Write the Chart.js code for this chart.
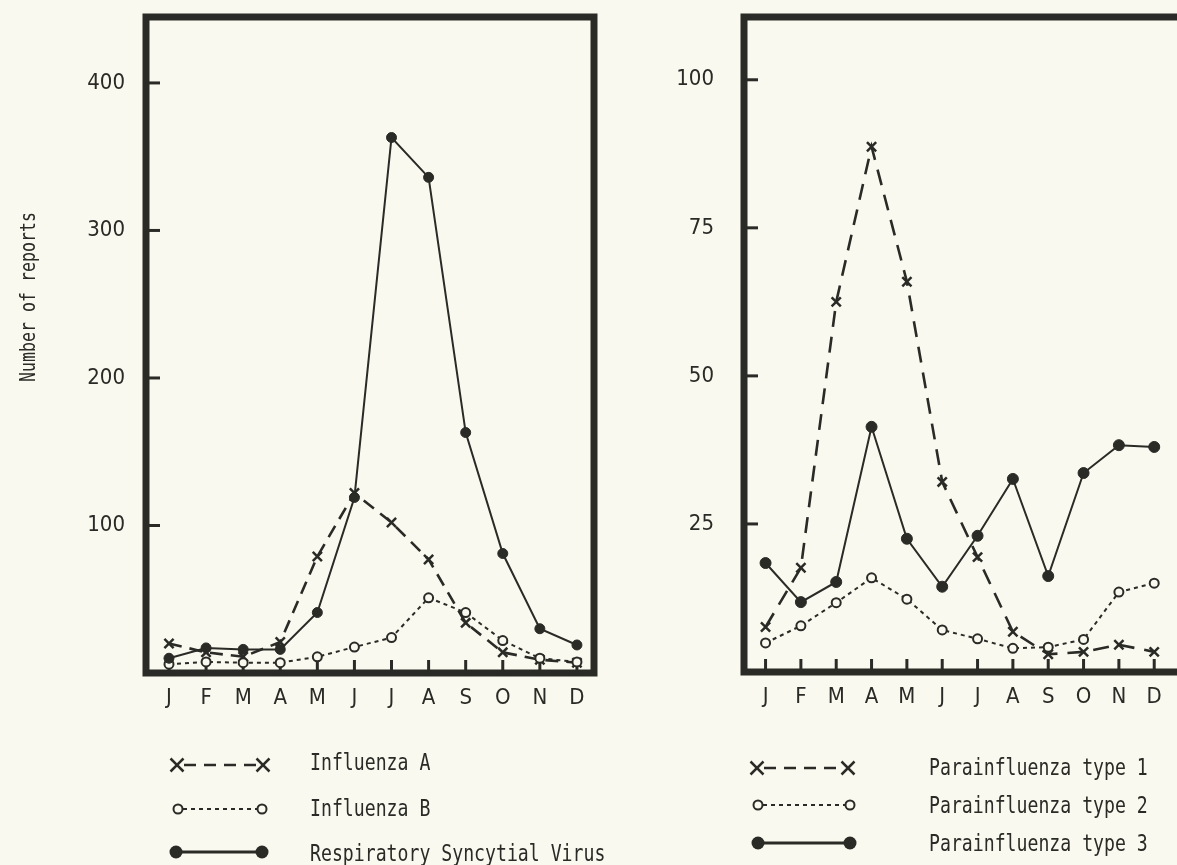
<!DOCTYPE html>
<html>
<head>
<meta charset="utf-8">
<script src="https://cdn.jsdelivr.net/npm/chart.js@4.4.1/dist/chart.umd.min.js"></script>
<style>
  html, body { margin:0; padding:0; background:#faf9ef; width:1177px; height:865px; overflow:hidden; position:relative; }
  canvas { position:absolute; top:0; }
  .txt { position:absolute; font-family:'DejaVu Sans Mono', 'Liberation Mono', monospace; color:#2a2a26; white-space:pre; transform-origin:left center; }
  .leg { font-size:23px; line-height:26px; height:26px; transform:scaleX(0.79); }
  #ytitle { font-size:22px; line-height:26px; transform: translate(-50%,-50%) rotate(-90deg) scaleX(0.755); transform-origin:center center; }
  svg { position:absolute; left:0; top:0; }
</style>
</head>
<body>
<canvas id="left" width="640" height="730" style="left:0"></canvas>
<canvas id="right" width="537" height="730" style="left:640px"></canvas>

<div id="ytitle" class="txt" style="left:28px; top:297px;">Number of reports</div>

<svg width="1177" height="865" id="legsvg"></svg>

<div class="txt leg" style="left:310px; top:749px;">Influenza A</div>
<div class="txt leg" style="left:310px; top:795px;">Influenza B</div>
<div class="txt leg" style="left:310px; top:840px;">Respiratory Syncytial Virus</div>
<div class="txt leg" style="left:929px; top:754px;">Parainfluenza type 1</div>
<div class="txt leg" style="left:929px; top:792px;">Parainfluenza type 2</div>
<div class="txt leg" style="left:929px; top:830px;">Parainfluenza type 3</div>

<script>
// ---- data ----
const months = ['J','F','M','A','M','J','J','A','S','O','N','D'];
const leftTicks = [100, 200, 300, 400];
const rightTicks = [25, 50, 75, 100];
const influenzaA = [20, 14, 11, 21, 79, 122, 102, 77, 34, 14, 9, 7];
const influenzaB = [6, 7.5, 7, 7, 11, 17.6, 24, 51, 41, 22, 10, 7.5];
const rsv = [10, 17, 16, 16, 41, 119, 363, 336, 163, 81, 30, 19];
const para1 = [7.6, 17.6, 62.5, 88.7, 65.9, 32.1, 19.4, 6.8, 3.0, 3.4, 4.6, 3.4];
const para2 = [4.9, 7.8, 11.7, 15.9, 12.3, 7.1, 5.6, 4.0, 4.2, 5.5, 13.5, 15.0];
const para3 = [18.4, 11.8, 15.2, 41.4, 22.5, 14.4, 23.0, 32.6, 16.2, 33.6, 38.3, 38.0];

const INK = '#2a2a26';
const PAPER = '#faf9ef';
const tickFont = { family: "'Liberation Sans Narrow', 'DejaVu Sans Condensed', 'Liberation Sans', sans-serif", size: 22 };
const monthFont = { family: "'Liberation Sans Narrow', 'DejaVu Sans Condensed', 'Liberation Sans', sans-serif", size: 22 };

const toPts = arr => arr.map((v, i) => ({ x: i, y: v }));

const framePlugin = {
  id: 'frame',
  beforeDatasetsDraw(chart, args, opts) {
    const { ctx, chartArea } = chart;
    const { left, right, top, bottom } = chartArea;
    ctx.save();
    ctx.strokeStyle = INK;
    ctx.lineWidth = 7;
    ctx.lineJoin = 'miter';
    ctx.beginPath();
    if (opts.closed) {
      ctx.rect(left, top, right - left, bottom - top);
    } else {
      ctx.moveTo(right + 20, top);
      ctx.lineTo(left, top);
      ctx.lineTo(left, bottom);
      ctx.lineTo(right + 20, bottom);
    }
    ctx.stroke();
    ctx.lineWidth = 3;
    const ys = chart.scales.y;
    ys.ticks.forEach(t => {
      const py = ys.getPixelForValue(t.value);
      ctx.beginPath(); ctx.moveTo(left, py); ctx.lineTo(left + 14, py); ctx.stroke();
    });
    const xs = chart.scales.x;
    xs.ticks.forEach(t => {
      const px = xs.getPixelForValue(t.value);
      ctx.beginPath(); ctx.moveTo(px, bottom); ctx.lineTo(px, bottom - 13); ctx.stroke();
    });
    ctx.restore();
  }
};

function makeChart(id, cfg) {
  return new Chart(document.getElementById(id), {
    type: 'line',
    data: {
      datasets: cfg.series.map(s => ({
        data: toPts(s.values),
        borderColor: INK,
        borderWidth: s.width,
        borderDash: s.dash,
        pointStyle: s.marker,
        pointRadius: s.radius,
        pointBorderWidth: s.pbw,
        pointBackgroundColor: s.fill,
        pointBorderColor: INK,
        tension: 0,
        clip: false
      }))
    },
    options: {
      responsive: false,
      animation: false,
      events: [],
      layout: { padding: cfg.padding },
      plugins: { legend: { display: false }, tooltip: { enabled: false }, frame: { closed: cfg.closed } },
      scales: {
        x: {
          type: 'linear', min: cfg.xmin, max: cfg.xmax,
          afterBuildTicks: s => { s.ticks = months.map((m, i) => ({ value: i })); },
          afterFit: s => { s.height = cfg.xh; s.paddingLeft = 0; s.paddingRight = 0; },
          ticks: { callback: v => months[v], autoSkip: false, maxRotation: 0, padding: cfg.xpad, font: monthFont, color: INK },
          grid: { display: false, drawTicks: false },
          border: { display: false }
        },
        y: {
          min: 0, max: cfg.ymax,
          afterBuildTicks: s => { s.ticks = cfg.yticks.map(v => ({ value: v })); },
          afterFit: s => { s.width = cfg.yw; s.paddingTop = 0; s.paddingBottom = 0; },
          ticks: { padding: cfg.ypad, font: tickFont, color: INK },
          grid: { display: false, drawTicks: false },
          border: { display: false }
        }
      }
    },
    plugins: [framePlugin]
  });
}

makeChart('left', {
  series: [
    { values: rsv, width: 2, dash: [], marker: 'circle', radius: 5, pbw: 1, fill: INK },
    { values: influenzaB, width: 2, dash: [4, 4], marker: 'circle', radius: 4.5, pbw: 2, fill: PAPER },
    { values: influenzaA, width: 2.6, dash: [13, 8], marker: 'crossRot', radius: 6.5, pbw: 2.5, fill: INK }
  ],
  padding: { top: 17, right: 46, left: 0, bottom: 0 },
  closed: true,
  xmin: -0.62, xmax: 11.46, xh: 57, xpad: 12,
  ymax: 444.7, yticks: leftTicks, yw: 146, ypad: 21
});

makeChart('right', {
  series: [
    { values: para3, width: 2, dash: [], marker: 'circle', radius: 5.5, pbw: 1, fill: INK },
    { values: para2, width: 2, dash: [4, 4], marker: 'circle', radius: 4.5, pbw: 2, fill: PAPER },
    { values: para1, width: 2.6, dash: [16, 10], marker: 'crossRot', radius: 6.5, pbw: 2.5, fill: INK }
  ],
  padding: { top: 17, right: 0, left: 0, bottom: 0 },
  closed: false,
  xmin: -0.61, xmax: 11.39, xh: 58, xpad: 12,
  ymax: 110.6, yticks: rightTicks, yw: 104, ypad: 30
});

// ---- legend symbols (SVG) ----
const svg = document.getElementById('legsvg');
const NS = 'http://www.w3.org/2000/svg';
function el(tag, attrs) { const e = document.createElementNS(NS, tag); for (const k in attrs) e.setAttribute(k, attrs[k]); svg.appendChild(e); return e; }
function cross(x, y, r) {
  el('line', { x1: x - r, y1: y - r, x2: x + r, y2: y + r, stroke: INK, 'stroke-width': 2.5 });
  el('line', { x1: x - r, y1: y + r, x2: x + r, y2: y - r, stroke: INK, 'stroke-width': 2.5 });
}
function legendRow(x1, x2, y, kind) {
  if (kind === 'A') {
    el('line', { x1: x1 + 7, y1: y, x2: x2 - 7, y2: y, stroke: INK, 'stroke-width': 2.6, 'stroke-dasharray': '12 8' });
    cross(x1, y, 6.5); cross(x2, y, 6.5);
  } else if (kind === 'B') {
    el('line', { x1: x1 + 5, y1: y, x2: x2 - 5, y2: y, stroke: INK, 'stroke-width': 2, 'stroke-dasharray': '4 4' });
    el('circle', { cx: x1, cy: y, r: 4.5, fill: PAPER, stroke: INK, 'stroke-width': 2 });
    el('circle', { cx: x2, cy: y, r: 4.5, fill: PAPER, stroke: INK, 'stroke-width': 2 });
  } else {
    el('line', { x1: x1, y1: y, x2: x2, y2: y, stroke: INK, 'stroke-width': 3 });
    el('circle', { cx: x1, cy: y, r: 6.5, fill: INK });
    el('circle', { cx: x2, cy: y, r: 6.5, fill: INK });
  }
}
legendRow(177, 263, 765, 'A');
legendRow(178, 262, 809, 'B');
legendRow(176, 262, 852, 'C');
legendRow(757, 848, 768, 'A');
legendRow(758, 850, 805, 'B');
legendRow(758, 850, 843, 'C');
</script>
</body>
</html>
